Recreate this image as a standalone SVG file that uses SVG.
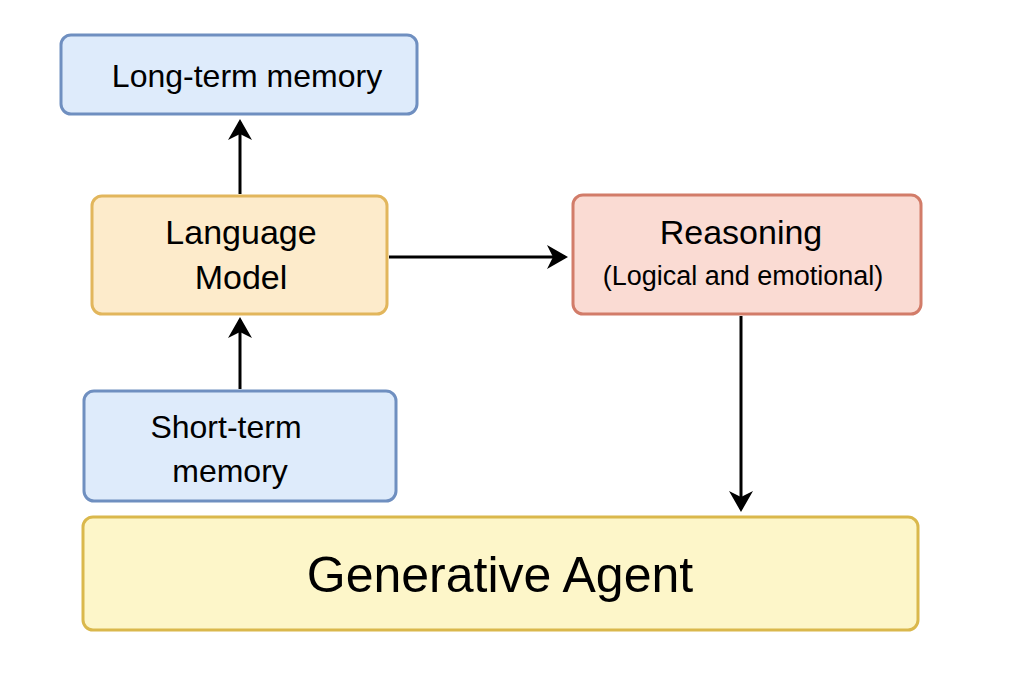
<svg xmlns="http://www.w3.org/2000/svg" width="1024" height="683" viewBox="0 0 1024 683">
<style>
text{font-family:"Liberation Sans",Arial,sans-serif;fill:#000;text-anchor:middle}
.blue{fill:#deebfb;stroke:#6f8fc0;stroke-width:3}
.orange{fill:#fdebcb;stroke:#e2b65c;stroke-width:3}
.red{fill:#fadbd3;stroke:#d27c69;stroke-width:3}
.yellow{fill:#fdf6c9;stroke:#dab84c;stroke-width:3}
.c{stroke:#000;stroke-width:3;fill:none;marker-end:url(#a)}
</style>
<defs><marker id="a" markerWidth="8" markerHeight="8" refX="6" refY="4" orient="auto" markerUnits="strokeWidth"><path d="M0,0 L7,4 L0,8 L2,4 z" fill="#000"/></marker></defs>
<rect width="1024" height="683" fill="#fff"/>
<g id="ltm"><rect class="blue" x="61" y="35" width="356" height="79" rx="10"/><text x="247" y="87" font-size="32">Long-term memory</text></g>
<g id="lm"><rect class="orange" x="92" y="196" width="295" height="118" rx="10"/><text x="241" y="244" font-size="34">Language</text><text x="241" y="289" font-size="34">Model</text></g>
<g id="reason"><rect class="red" x="573" y="195" width="348" height="119" rx="10"/><text x="741" y="244" font-size="34">Reasoning</text><text x="743" y="285" font-size="27">(Logical and emotional)</text></g>
<g id="stm"><rect class="blue" x="84" y="391" width="312" height="110" rx="10"/><text x="226" y="438" font-size="32">Short-term</text><text x="230" y="482" font-size="32">memory</text></g>
<g id="agent"><rect class="yellow" x="83" y="517" width="835" height="113" rx="10"/><text x="500" y="592" font-size="50">Generative Agent</text></g>
<g id="connectors">
<line class="c" x1="240" y1="194" x2="240" y2="122"/>
<line class="c" x1="240" y1="389" x2="240" y2="320"/>
<line class="c" x1="389" y1="257" x2="565" y2="257"/>
<line class="c" x1="741" y1="316" x2="741" y2="509"/>
</g>
</svg>
